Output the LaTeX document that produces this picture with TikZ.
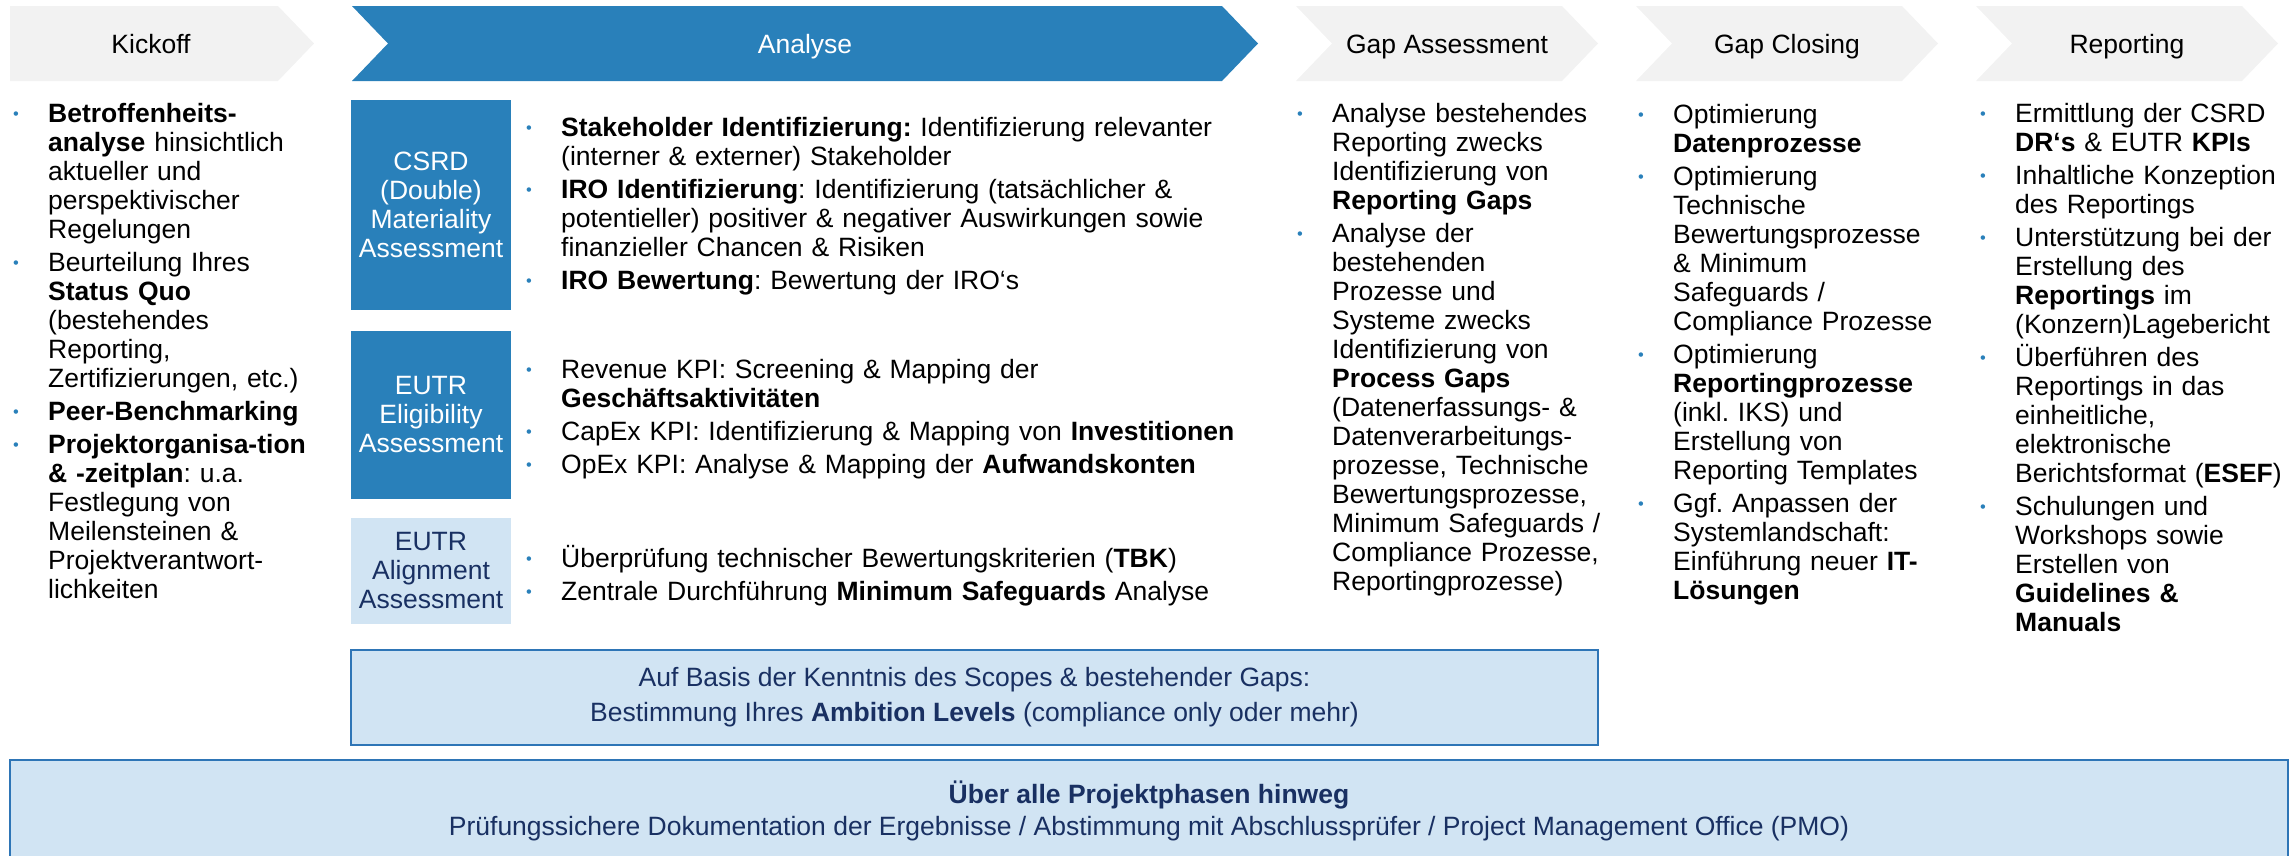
\documentclass[tikz,border=0pt]{standalone}
\usepackage{graphicx}
\usepackage{fontspec}
\setmainfont{Liberation Sans}
\usetikzlibrary{positioning}
\definecolor{phBlue}{RGB}{41,128,186}
\definecolor{phGray}{RGB}{242,242,242}
\definecolor{phLight}{RGB}{209,228,243}
\definecolor{phNavy}{RGB}{25,48,98}
\definecolor{phLine}{RGB}{46,117,182}
\newlength{\bulind}
\setlength{\bulind}{35pt}
\newcommand{\bfirst}{\hspace*{-\bulind}\makebox[\bulind][l]{\raisebox{3pt}{\textcolor{phBlue}{\scalebox{0.62}{\textbullet}}}}}
\newcommand{\bstart}{\leftskip=\bulind\bfirst}
\newcommand{\bitem}{\par\vspace{4pt}\bfirst}
\tikzset{
    base/.style={font=\fontsize{26.5}{29}\selectfont\frenchspacing, inner sep=0pt},
    phasetext/.style={base, anchor=base},
    blist/.style={base, anchor=base west, text width=#1, align=left},
    darkbox/.style={base, fill=phBlue, text=white, align=center, minimum width=160pt},
    lightbox/.style={base, fill=phLight, text=phNavy, align=center, minimum width=160pt},
    infobox/.style={base, fill=phLight, draw=phLine, line width=2pt, text=phNavy, align=center}
}
\begin{document}
\begin{tikzpicture}[x=1pt,y=-1pt]
  \useasboundingbox (0,0) rectangle (2295,855);

  % Phasen
  \fill[phGray] (10,6) -- (278,6) -- (314,43.5) -- (278,81) -- (10,81) -- cycle;
  \fill[phBlue] (352,6) -- (1222,6) -- (1258,43.5) -- (1222,81) -- (352,81) -- (388,43.5) -- cycle;
  \fill[phGray] (1296,6) -- (1562,6) -- (1598,43.5) -- (1562,81) -- (1296,81) -- (1332,43.5) -- cycle;
  \fill[phGray] (1636,6) -- (1902,6) -- (1938,43.5) -- (1902,81) -- (1636,81) -- (1672,43.5) -- cycle;
  \fill[phGray] (1976,6) -- (2242,6) -- (2278,43.5) -- (2242,81) -- (1976,81) -- (2012,43.5) -- cycle;

  \node[phasetext] (kick) at (151,53) {Kickoff};
  \node[phasetext, text=white] (ana) at (805,53) {Analyse};
  \node[phasetext] (gapa) at (1447,53) {Gap Assessment};
  \node[phasetext] (gapc) at (1787,53) {Gap Closing};
  \node[phasetext] (rep) at (2127,53) {Reporting};

  % Kickoff
  \node[blist=320pt] (kicklist) at (13,122) {\bstart\textbf{Betroffenheits-}\\\textbf{analyse} hinsichtlich\\aktueller und\\perspektivischer\\Regelungen
    \bitem Beurteilung Ihres\\\textbf{Status Quo}\\(bestehendes\\Reporting,\\Zertifizierungen, etc.)
    \bitem \textbf{Peer-Benchmarking}
    \bitem \textbf{Projektorganisa-tion}\\\textbf{\& -zeitplan}: u.a.\\Festlegung von\\Meilensteinen \&\\Projektverantwort-\\lichkeiten\par};

  % Analyse
  \node[darkbox, minimum height=210pt] (csrd) at (431,205) {CSRD\\(Double)\\Materiality\\Assessment};
  \node[darkbox, minimum height=168pt] (elig) at (431,415) {EUTR\\Eligibility\\Assessment};
  \node[lightbox, minimum height=106pt] (align) at (431,571) {EUTR\\Alignment\\Assessment};

  \node[blist=720pt] (csrdlist) at (526,136) {\bstart\textbf{Stakeholder Identifizierung:} Identifizierung relevanter\\(interner \& externer) Stakeholder
    \bitem \textbf{IRO Identifizierung}: Identifizierung (tatsächlicher \&\\potentieller) positiver \& negativer Auswirkungen sowie\\finanzieller Chancen \& Risiken
    \bitem \textbf{IRO Bewertung}: Bewertung der IRO‘s\par};
  \node[blist=720pt] (eliglist) at (526,378) {\bstart Revenue KPI: Screening \& Mapping der\\\textbf{Geschäftsaktivitäten}
    \bitem CapEx KPI: Identifizierung \& Mapping von \textbf{Investitionen}
    \bitem OpEx KPI: Analyse \& Mapping der \textbf{Aufwandskonten}\par};
  \node[blist=720pt] (alignlist) at (526,567) {\bstart Überprüfung technischer Bewertungskriterien (\textbf{TBK})
    \bitem Zentrale Durchführung \textbf{Minimum Safeguards} Analyse\par};

  \node[infobox, minimum width=1247pt, minimum height=95pt] (ambition) at (974.5,697.5)
    {Auf Basis der Kenntnis des Scopes \& bestehender Gaps:\\[6pt]Bestimmung Ihres \textbf{Ambition Levels} (compliance only oder mehr)};

  % Gap Assessment
  \node[blist=330pt] (gapalist) at (1297,122) {\bstart Analyse bestehendes\\Reporting zwecks\\Identifizierung von\\\textbf{Reporting Gaps}
    \bitem Analyse der\\bestehenden\\Prozesse und\\Systeme zwecks\\Identifizierung von\\\textbf{Process Gaps}\\(Datenerfassungs- \&\\Datenverarbeitungs-\\prozesse, Technische\\Bewertungsprozesse,\\Minimum Safeguards /\\Compliance Prozesse,\\Reportingprozesse)\par};

  % Gap Closing
  \node[blist=330pt] (gapclist) at (1638,123) {\bstart Optimierung\\\textbf{Datenprozesse}
    \bitem Optimierung\\Technische\\Bewertungsprozesse\\\& Minimum\\Safeguards /\\Compliance Prozesse
    \bitem Optimierung\\\textbf{Reportingprozesse}\\(inkl. IKS) und\\Erstellung von\\Reporting Templates
    \bitem Ggf. Anpassen der\\Systemlandschaft:\\Einführung neuer \textbf{IT-}\\\textbf{Lösungen}\par};

  % Reporting
  \node[blist=330pt] (replist) at (1980,122) {\bstart Ermittlung der CSRD\\\textbf{DR‘s} \& EUTR \textbf{KPIs}
    \bitem Inhaltliche Konzeption\\des Reportings
    \bitem Unterstützung bei der\\Erstellung des\\\textbf{Reportings} im\\(Konzern)Lagebericht
    \bitem Überführen des\\Reportings in das\\einheitliche,\\elektronische\\Berichtsformat (\textbf{ESEF})
    \bitem Schulungen und\\Workshops sowie\\Erstellen von\\\textbf{Guidelines \&}\\\textbf{Manuals}\par};

  % Projektphasen-uebergreifend
  \node[infobox, minimum width=2278pt, minimum height=102pt] (pmo) at (1149,811)
    {\textbf{Über alle Projektphasen hinweg}\\[3pt]Prüfungssichere Dokumentation der Ergebnisse / Abstimmung mit Abschlussprüfer / Project Management Office (PMO)};
\end{tikzpicture}
\end{document}
